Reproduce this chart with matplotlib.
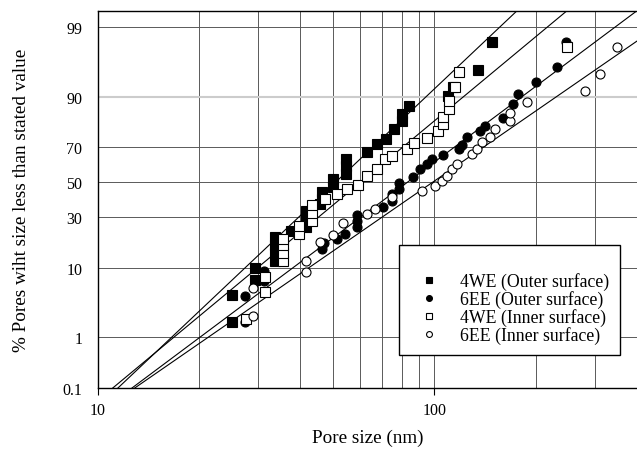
import numpy as np
import matplotlib
matplotlib.use('Agg')
import matplotlib.pyplot as plt
from matplotlib.ticker import NullFormatter, NullLocator
from statistics import NormalDist

# データ（細孔径 nm, 累積 %）
we4_out_x = [25.1, 25.1, 29.3, 29.3, 33.6, 33.6, 33.6, 33.6, 37.5, 41.6, 41.6, 41.6, 45.7, 46.4, 46.4,
             50.0, 50.0, 54.6, 54.6, 54.6, 63.1, 67.5, 71.8, 75.8, 80.1, 80.1, 84.0, 109.6, 113.5, 134.6, 148.1]
we4_out_p = [1.8, 4.5, 7.1, 9.8, 11.8, 14.3, 17.2, 20.4, 23.1, 25.0, 28.9, 33.2, 37.1, 39.9, 44.0,
             47.0, 51.8, 54.8, 59.5, 63.5, 67.4, 71.6, 74.1, 78.7, 82.0, 84.6, 87.3, 90.2, 92.3, 95.4, 98.2]

ee6_out_x = [27.4, 27.4, 31.2, 31.2, 46.4, 47.0, 51.4, 54.2, 58.9, 58.9, 58.9, 70.3, 74.8, 74.8, 78.5, 78.5,
             86.3, 90.6, 95.0, 98.3, 106.0, 118.2, 120.7, 124.8, 136.4, 141.2, 159.7, 171.0, 177.0, 200.0,
             231.1, 247.0]
ee6_out_p = [1.8, 4.4, 6.9, 9.1, 15.7, 18.0, 19.6, 21.7, 25.0, 27.9, 31.0, 35.4, 38.8, 42.9, 45.8, 49.4,
             53.0, 57.7, 60.6, 63.5, 65.7, 69.0, 71.1, 75.0, 77.8, 80.0, 83.2, 87.9, 90.7, 93.3,
             95.8, 98.2]

we4_in_x = [27.6, 31.4, 31.4, 35.5, 35.5, 35.5, 35.5, 39.6, 39.6, 43.3, 43.3, 43.3, 47.3, 51.4, 55.0,
            59.3, 63.1, 67.5, 71.3, 74.8, 82.9, 86.9, 95.0, 102.4, 106.0, 106.3, 110.4, 110.4, 115.1,
            118.2, 247.3]
we4_in_p = [2.0, 4.9, 7.7, 11.8, 14.3, 17.2, 19.6, 21.7, 25.4, 27.9, 32.1, 36.5, 39.9, 42.9, 45.8,
            48.2, 53.6, 57.7, 63.5, 65.2, 69.0, 72.1, 74.6, 77.8, 80.8, 83.5, 86.3, 88.8, 92.3,
            95.1, 97.9]

ee6_in_x = [28.9, 28.9, 41.6, 41.6, 45.7, 50.0, 53.5, 63.1, 66.6, 74.8, 91.8, 100.4, 105.2, 109.1,
            112.7, 116.6, 129.2, 133.7, 138.6, 146.1, 151.2, 167.5, 167.5, 188.0, 279.8, 309.8, 348.0]
ee6_in_p = [2.2, 5.6, 8.8, 11.8, 18.4, 21.3, 26.9, 31.6, 34.3, 41.1, 44.6, 47.6, 50.6, 53.6,
            57.7, 60.6, 66.3, 69.0, 72.6, 75.0, 78.7, 82.0, 85.0, 88.5, 91.4, 94.8, 97.9]

# 近似直線（両端）
fit_we4_out_x = [11.5, 175.8]
fit_we4_out_p = [0.1, 99.49]
fit_we4_in_x = [11.1, 247.3]
fit_we4_in_p = [0.1, 99.49]
fit_ee6_out_x = [12.66, 399.0]
fit_ee6_out_p = [0.1, 99.49]
fit_ee6_in_x = [12.9, 400.0]
fit_ee6_in_p = [0.1, 98.29]

labels = ['4WE (Outer surface)', '6EE (Outer surface)', '4WE (Inner surface)', '6EE (Inner surface)']
y_ticks = [0.1, 1, 10, 30, 50, 70, 90, 99]
y_tick_labels = ['0.1', '1', '10', '30', '50', '70', '90', '99']
x_minor = [20, 30, 40, 50, 60, 70, 80, 90, 200, 300]

_nd = NormalDist()
_ppf = np.vectorize(_nd.inv_cdf, otypes=[float])
_cdf = np.vectorize(_nd.cdf, otypes=[float])


def prob_forward(p):
    p = np.clip(np.asarray(p, dtype=float) / 100.0, 1e-7, 1 - 1e-7)
    return _ppf(p)


def prob_inverse(z):
    return _cdf(np.asarray(z, dtype=float)) * 100.0


plt.rcParams['font.family'] = ['Liberation Serif', 'DejaVu Serif']

fig = plt.figure(figsize=(6.37, 4.52), dpi=100)
ax = fig.add_axes([97.5 / 637, 63 / 452, 539.5 / 637, 377 / 452])

ax.set_xscale('log')
ax.set_yscale('function', functions=(prob_forward, prob_inverse))
ax.set_xlim(10, 400)
ax.set_ylim(0.1, 99.49)

# 軸・目盛
ax.set_xticks([10, 100])
ax.set_xticklabels(['10', '100'])
ax.set_xticks(x_minor, minor=True)
ax.xaxis.set_minor_formatter(NullFormatter())
ax.set_yticks(y_ticks)
ax.set_yticklabels(y_tick_labels)
ax.yaxis.set_minor_locator(NullLocator())
ax.tick_params(axis='x', which='major', length=5, width=0.8, pad=5, labelsize=11.5, direction='out')
ax.tick_params(axis='x', which='minor', length=0)
ax.tick_params(axis='y', length=0, pad=11, labelsize=11.5)

ax.grid(True, which='both', color='0.35', linewidth=0.7)
for t in ax.xaxis.get_minor_ticks():
    if np.isclose(t.get_loc(), 30):
        t.gridline.set_color('0.6')
        t.gridline.set_linewidth(1.6)
    elif t.get_loc() in (80, 300):
        t.gridline.set_color('0.75')
        t.gridline.set_linewidth(1.2)
for t in ax.yaxis.get_major_ticks():
    if np.isclose(t.get_loc(), 90):
        t.gridline.set_color('0.8')
        t.gridline.set_linewidth(1.5)
ax.set_axisbelow(True)

for s in ['left', 'bottom', 'top']:
    ax.spines[s].set_linewidth(1.0)
ax.spines['right'].set_visible(False)

# 近似直線
line_kw = dict(color='black', linewidth=0.8, zorder=2)
ax.plot(fit_we4_out_x, fit_we4_out_p, **line_kw)
ax.plot(fit_we4_in_x, fit_we4_in_p, **line_kw)
ax.plot(fit_ee6_out_x, fit_ee6_out_p, **line_kw)
ax.plot(fit_ee6_in_x, fit_ee6_in_p, **line_kw)

# データ点
ax.plot(we4_out_x, we4_out_p, 's', ms=6.5, mfc='black', mec='black', mew=0.8, label=labels[0], zorder=3)
ax.plot(ee6_out_x, ee6_out_p, 'o', ms=6.5, mfc='black', mec='black', mew=0.8, label=labels[1], zorder=3)
ax.plot(we4_in_x, we4_in_p, 's', ms=6.5, mfc='white', mec='black', mew=0.8, label=labels[2], zorder=4)
ax.plot(ee6_in_x, ee6_in_p, 'o', ms=6.5, mfc='white', mec='black', mew=0.8, label=labels[3], zorder=4)

leg = ax.legend(loc='lower left', bbox_to_anchor=(0.559, 0.0875), fontsize=12.8,
                title=' ', title_fontsize=12, frameon=True, fancybox=False, shadow=False,
                edgecolor='black', framealpha=1, borderpad=0.62, labelspacing=0.0,
                handlelength=2.1, handletextpad=0.72, markerscale=0.65, borderaxespad=0)
leg.get_frame().set_linewidth(1.0)

ax.set_xlabel('Pore size (nm)', fontsize=13.8, labelpad=8)
ax.set_ylabel('% Pores wiht size less than stated value', fontsize=13.8, labelpad=23)

fig.savefig('out.png', dpi=100)
